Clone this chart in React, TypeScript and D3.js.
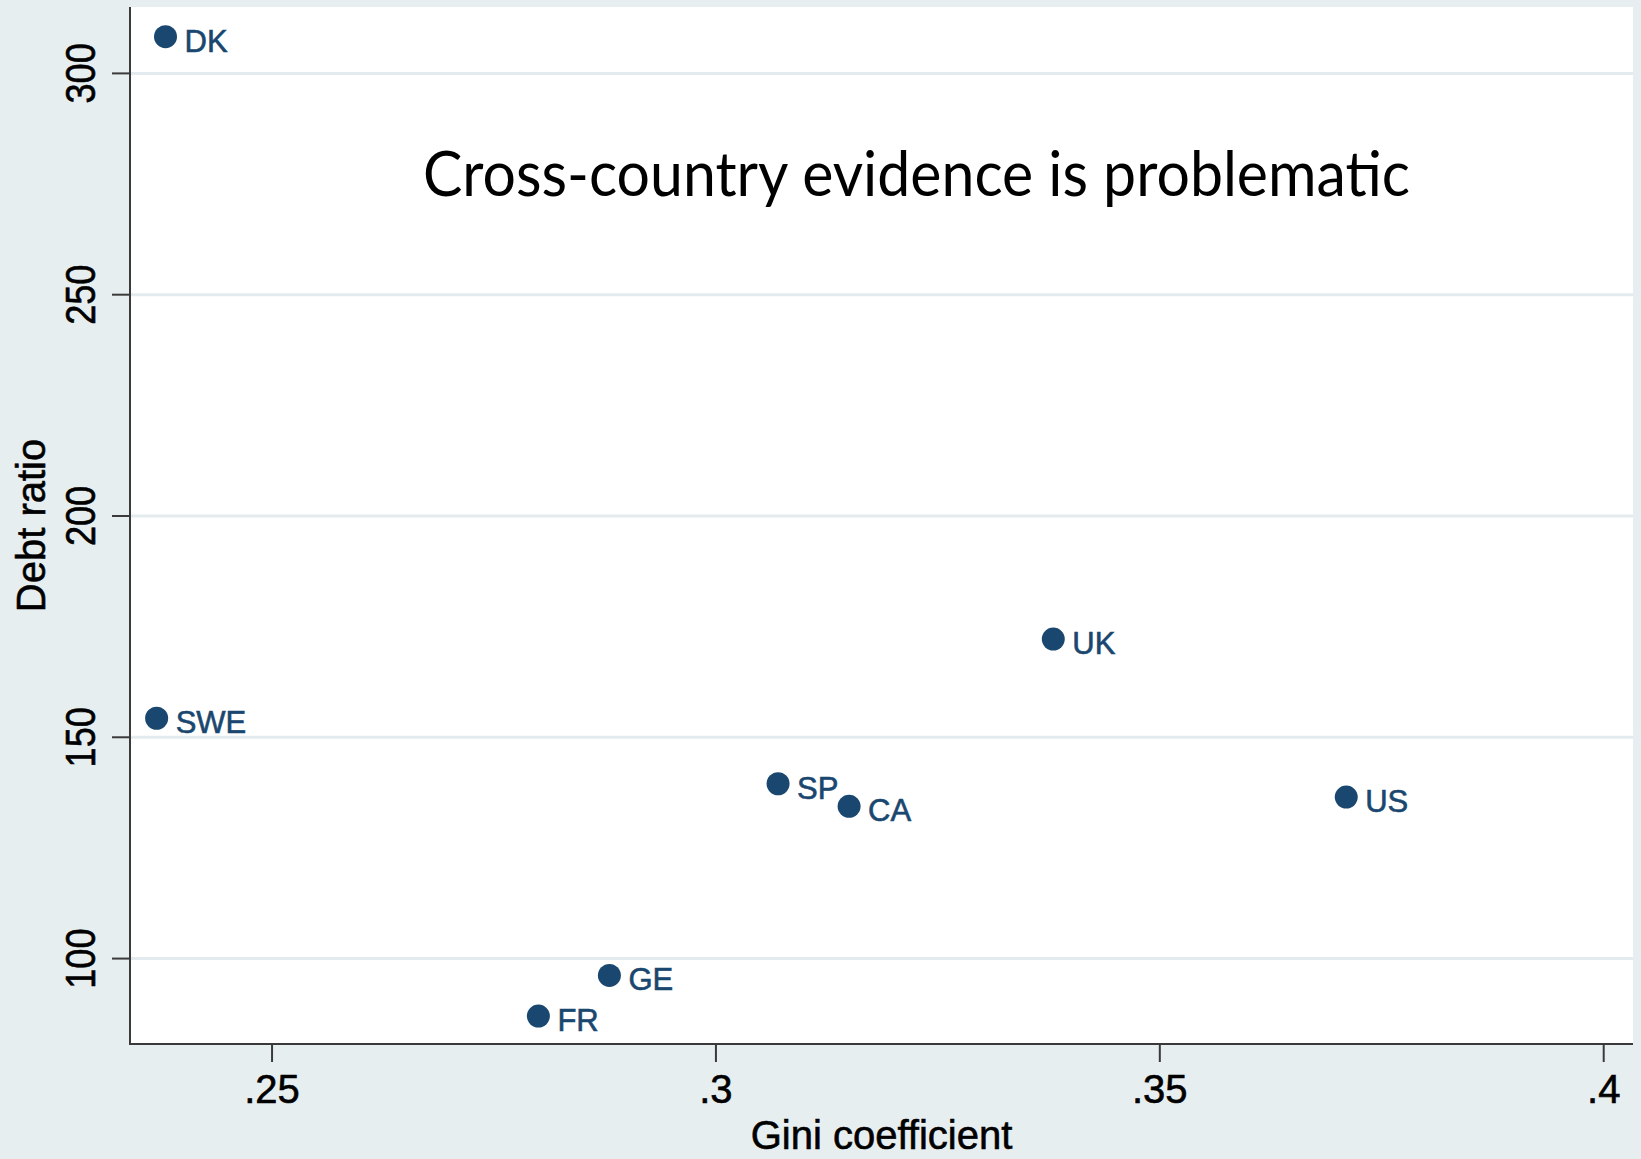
import React from "react";
import * as d3 from "d3";

const countries = ["DK", "SWE", "UK", "SP", "CA", "US", "GE", "FR"];
const gini = [0.238, 0.237, 0.338, 0.307, 0.315, 0.371, 0.288, 0.28];
const debtRatio = [308.3, 154.3, 172.2, 139.5, 134.4, 136.5, 96.2, 87.0];
const xTicks = [0.25, 0.3, 0.35, 0.4];
const xTickLabels = [".25", ".3", ".35", ".4"];
const yTicks = [100, 150, 200, 250, 300];
const yTickLabels = ["100", "150", "200", "250", "300"];
const title = "Cross-country evidence is problematic";
const xLabel = "Gini coefficient";
const yLabel = "Debt ratio";

const W = 1641;
const H = 1159;
const plot = { left: 130, right: 1633, top: 7, bottom: 1044 };
const BG = "#e7eef0";
const GRID = "#e3ebee";
const NAVY = "#1a476f";
const AXIS = "#3a3a3a";
const STATA_FONT = "'Liberation Sans', Arial, Helvetica, sans-serif";

export default function App() {
  const x = d3.scaleLinear().domain([0.234, 0.4033]).range([plot.left, plot.right]);
  const y = d3.scaleLinear().domain([80.7, 315]).range([plot.bottom, plot.top]);
  const pts = countries.map((c, i) => ({ c, gx: gini[i], dy: debtRatio[i] }));

  return (
    <svg
      width={W}
      height={H}
      style={{ position: "absolute", left: 0, top: 0, display: "block" }}
    >
      <rect x={0} y={0} width={W} height={H} fill={BG} />
      <rect
        x={plot.left}
        y={plot.top}
        width={plot.right - plot.left}
        height={plot.bottom - plot.top}
        fill="#ffffff"
      />
      {/* gridlines */}
      {yTicks.map((t) => (
        <line
          key={"g" + t}
          x1={plot.left}
          x2={plot.right}
          y1={y(t)}
          y2={y(t)}
          stroke={GRID}
          strokeWidth={3}
        />
      ))}
      {/* axes */}
      <line x1={plot.left} x2={plot.left} y1={plot.top} y2={plot.bottom + 1} stroke={AXIS} strokeWidth={2} />
      <line x1={plot.left - 1} x2={plot.right} y1={plot.bottom} y2={plot.bottom} stroke={AXIS} strokeWidth={2} />
      {/* y ticks */}
      {yTicks.map((t, i) => (
        <g key={"y" + t}>
          <line x1={plot.left - 18} x2={plot.left} y1={y(t)} y2={y(t)} stroke={AXIS} strokeWidth={2} />
          <text
            transform={`translate(95,${y(t)}) rotate(-90) scale(0.86,1)`}
            textAnchor="middle"
            fontFamily={STATA_FONT}
            fontSize={42}
            fill="#000"
            stroke="#000"
            strokeWidth={0.6}
          >
            {yTickLabels[i]}
          </text>
        </g>
      ))}
      {/* x ticks */}
      {xTicks.map((t, i) => (
        <g key={"x" + t}>
          <line x1={x(t)} x2={x(t)} y1={plot.bottom} y2={plot.bottom + 18} stroke={AXIS} strokeWidth={2} />
          <text
            x={x(t)}
            y={1103}
            textAnchor="middle"
            fontFamily={STATA_FONT}
            fontSize={40}
            fill="#000"
            stroke="#000"
            strokeWidth={0.6}
          >
            {xTickLabels[i]}
          </text>
        </g>
      ))}
      {/* axis titles */}
      <text
        x={(plot.left + plot.right) / 2}
        y={1149}
        textAnchor="middle"
        fontFamily={STATA_FONT}
        fontSize={40}
        fill="#000"
        stroke="#000"
        strokeWidth={0.6}
      >
        {xLabel}
      </text>
      <text
        transform={`translate(45,${(plot.top + plot.bottom) / 2}) rotate(-90)`}
        textAnchor="middle"
        fontFamily={STATA_FONT}
        fontSize={40}
        fill="#000"
        stroke="#000"
        strokeWidth={0.6}
      >
        {yLabel}
      </text>
      {/* points */}
      {pts.map((p) => (
        <g key={p.c}>
          <circle cx={x(p.gx)} cy={y(p.dy)} r={11.5} fill={NAVY} />
          <text
            x={x(p.gx) + 19}
            y={y(p.dy) + 15}
            fontFamily={STATA_FONT}
            fontSize={31}
            fill={NAVY}
            stroke={NAVY}
            strokeWidth={0.6}
          >
            {p.c}
          </text>
        </g>
      ))}
      {/* annotation */}
      <text
        x={423}
        y={196}
        fontFamily="Lato, 'Open Sans', sans-serif"
        fontSize={62}
        textLength={987}
        lengthAdjust="spacingAndGlyphs"
        fill="#000"
      >
        {title}
      </text>
    </svg>
  );
}
